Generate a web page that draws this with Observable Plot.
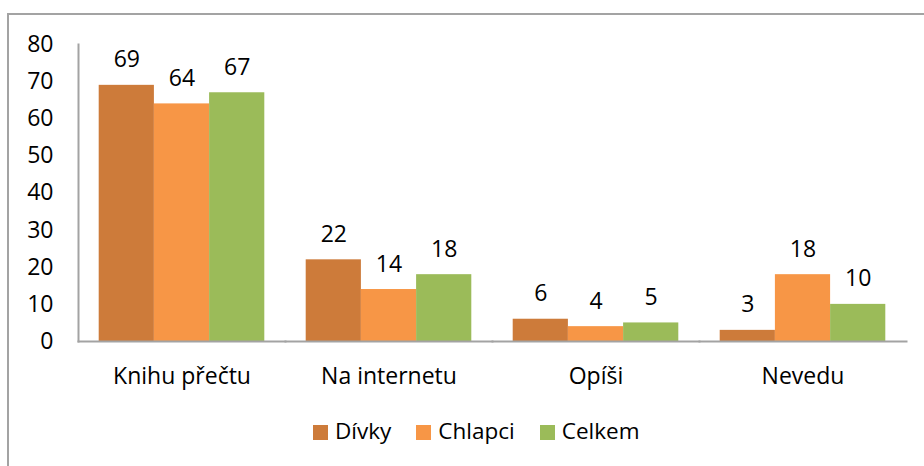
<!DOCTYPE html>
<html>
<head>
<meta charset="utf-8">
<script src="https://cdn.jsdelivr.net/npm/d3@7"></script>
<script src="https://cdn.jsdelivr.net/npm/@observablehq/plot@0.6"></script>
<style>
  html, body { margin: 0; padding: 0; background: #fff; width: 924px; height: 466px; overflow: hidden; }
  #border { position: absolute; left: 7px; top: 13px; width: 940px; height: 480px;
            border-top: 2px solid #a3a3a3; border-left: 2px solid #a3a3a3; }
  #chart { position: absolute; left: 0; top: 0; }
  #legend { position: absolute; left: 313px; top: 416px; display: flex; align-items: flex-start;
            font-family: "Open Sans", sans-serif; font-size: 22.5px; color: #000; line-height: 30px; }
  .item { display: flex; align-items: flex-start; margin-right: 25px; }
  .sw { width: 15px; height: 15px; margin-top: 9px; margin-right: 7px; }
</style>
</head>
<body>
<div id="border"></div>
<div id="chart"></div>
<div id="legend"></div>
<script>
const categories = ["Knihu přečtu", "Na internetu", "Opíši", "Nevedu"];
const series = ["Dívky", "Chlapci", "Celkem"];
const divky = [69, 22, 6, 3];
const chlapci = [64, 14, 4, 18];
const celkem = [67, 18, 5, 10];
const colors = ["#cd7b3a", "#f79646", "#9bbb59"];
const yTicks = [0, 10, 20, 30, 40, 50, 60, 70, 80];

const values = [divky, chlapci, celkem];
const data = [];
categories.forEach((c, i) => series.forEach((s, j) => data.push({cat: c, series: s, value: values[j][i]})));

const W = 924, H = 400, ML = 78, MR = 18, MT = 44, MB = 59;
const padIn = 0.2, padOut = 0.1;
const step = (W - ML - MR) / (categories.length - padIn + 2 * padOut);
const halfGap = step * padOut;
const axisColor = "#a3a3a3";
const FS = 23;

const chart = Plot.plot({
  width: W, height: H,
  marginLeft: ML, marginRight: MR, marginTop: MT, marginBottom: MB,
  style: {fontFamily: "Open Sans, sans-serif", fontSize: FS + "px", color: "#000", background: "transparent", overflow: "visible"},
  fx: {domain: categories, paddingInner: padIn, paddingOuter: padOut, round: false, label: null},
  x: {domain: series, padding: 0, round: false, axis: null},
  y: {domain: [0, 80]},
  color: {domain: series, range: colors},
  marks: [
    Plot.barY(data, {fx: "cat", x: "series", y: "value", fill: "series"}),
    Plot.text(data, {fx: "cat", x: "series", y: "value", text: d => String(d.value),
      lineAnchor: "bottom", dy: -18, fontSize: FS, fill: "#000"}),
    Plot.frame({anchor: "bottom", stroke: axisColor, strokeWidth: 2, insetLeft: -halfGap, insetRight: -halfGap}),
    Plot.frame({anchor: "left", facetAnchor: "left", stroke: axisColor, strokeWidth: 2, insetLeft: -halfGap}),
    Plot.axisY({ticks: yTicks, tickSize: 0, tickPadding: 0, dx: -(halfGap + 25), fontSize: FS, label: null, tickFormat: d => String(d)}),
    Plot.axisFx({anchor: "bottom", tickSize: 0, tickPadding: 26, fontSize: FS, label: null})
  ]
});
document.getElementById("chart").appendChild(chart);

const legend = document.getElementById("legend");
series.forEach((s, j) => {
  const item = document.createElement("div");
  item.className = "item";
  const sw = document.createElement("div");
  sw.className = "sw";
  sw.style.background = colors[j];
  const t = document.createElement("span");
  t.textContent = s;
  item.appendChild(sw);
  item.appendChild(t);
  legend.appendChild(item);
});
</script>
</body>
</html>
